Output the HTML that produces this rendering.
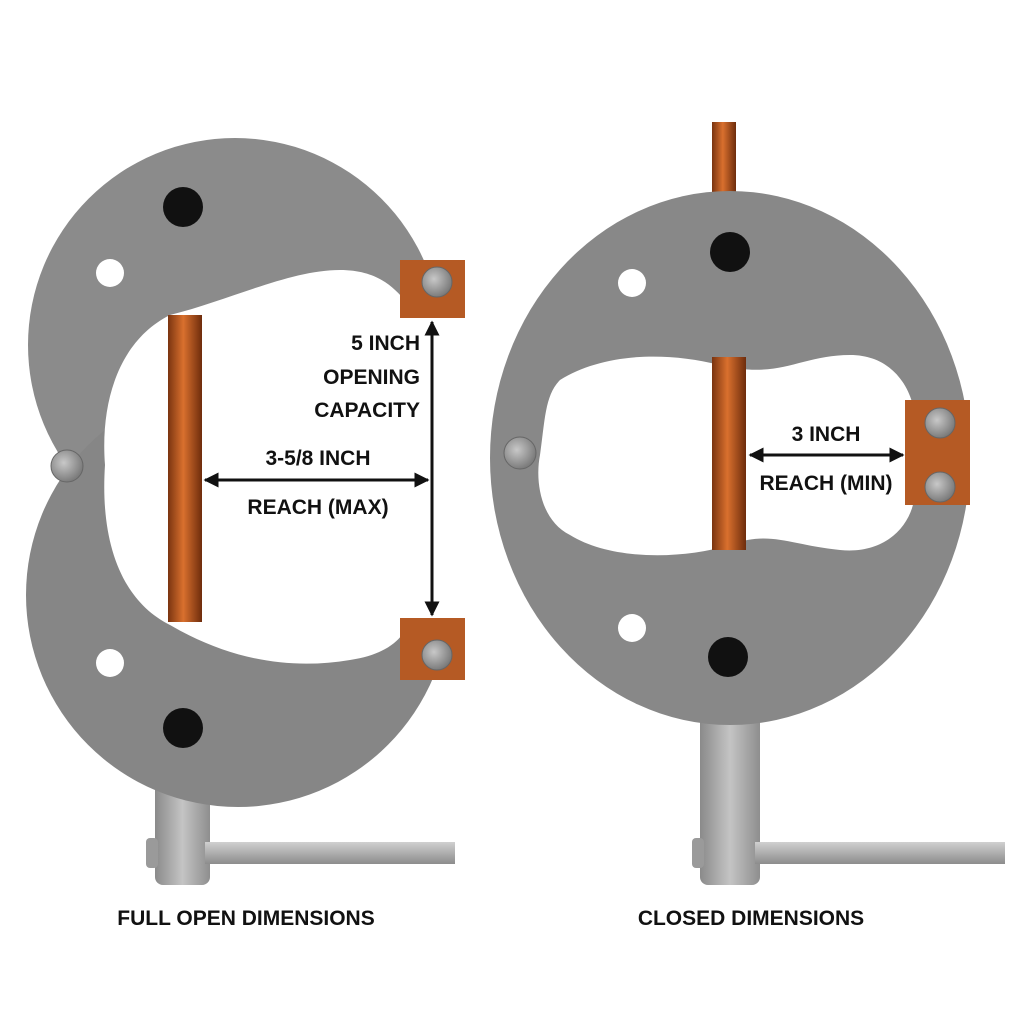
<!DOCTYPE html>
<html><head><meta charset="utf-8"><style>
html,body{margin:0;padding:0;background:#fff;}
svg{display:block}
text{font-family:"Liberation Sans",sans-serif;font-weight:bold;fill:#111;}
</style></head><body>
<svg width="1024" height="1024" viewBox="0 0 1024 1024" xmlns="http://www.w3.org/2000/svg">
<defs>
<linearGradient id="cu" x1="0" x2="1" y1="0" y2="0">
<stop offset="0" stop-color="#7a3410"/><stop offset="0.45" stop-color="#d9702e"/><stop offset="1" stop-color="#6e2c0c"/></linearGradient>
<linearGradient id="st" x1="0" x2="1" y1="0" y2="0">
<stop offset="0" stop-color="#8a8a8a"/><stop offset="0.5" stop-color="#c4c4c4"/><stop offset="1" stop-color="#8e8e8e"/></linearGradient>
<linearGradient id="bar" x1="0" x2="0" y1="0" y2="1">
<stop offset="0" stop-color="#d0d0d0"/><stop offset="1" stop-color="#8c8c8c"/></linearGradient>
<radialGradient id="pin" cx="0.4" cy="0.4" r="0.6"><stop offset="0" stop-color="#c8c8c8"/><stop offset="1" stop-color="#7c7c7c"/></radialGradient>
<marker id="ah" viewBox="0 0 10 10" refX="9" refY="5" markerWidth="5" markerHeight="5" orient="auto-start-reverse"><path d="M0,0 L10,5 L0,10 z" fill="#111"/></marker>
</defs>

<!-- LEFT clamp handle -->
<rect x="155" y="780" width="55" height="105" rx="8" fill="url(#st)"/>
<rect x="205" y="842" width="250" height="22" fill="url(#bar)"/>
<rect x="146" y="838" width="12" height="30" rx="4" fill="#9a9a9a"/>

<!-- LEFT discs -->
<circle cx="235" cy="345" r="207" fill="#8b8b8b"/>
<circle cx="238" cy="595" r="212" fill="#868686"/>
<!-- cutout -->
<path d="M170,315 C120,340 100,400 105,465 C100,540 120,600 170,625 C230,660 290,670 350,660 C385,655 400,640 405,630 L480,630 L480,300 L405,300 C395,290 380,270 340,270 C290,270 230,300 170,315 Z" fill="#fff"/>
<!-- jaw pads -->
<rect x="400" y="260" width="65" height="58" fill="#b55a24"/>
<rect x="400" y="618" width="65" height="62" fill="#b55a24"/>
<!-- spindle -->
<rect x="168" y="315" width="34" height="307" fill="url(#cu)"/>
<!-- holes -->
<circle cx="183" cy="207" r="20" fill="#111"/>
<circle cx="183" cy="728" r="20" fill="#111"/>
<circle cx="110" cy="273" r="14" fill="#fff"/>
<circle cx="110" cy="663" r="14" fill="#fff"/>
<circle cx="437" cy="282" r="15" fill="url(#pin)" stroke="#666"/>
<circle cx="437" cy="655" r="15" fill="url(#pin)" stroke="#666"/>
<circle cx="67" cy="466" r="16" fill="url(#pin)" stroke="#666"/>

<!-- RIGHT clamp handle -->
<rect x="700" y="715" width="60" height="170" rx="8" fill="url(#st)"/>
<rect x="755" y="842" width="250" height="22" fill="url(#bar)"/>
<rect x="692" y="838" width="12" height="30" rx="4" fill="#9a9a9a"/>
<!-- thread top -->
<rect x="712" y="122" width="24" height="70" fill="url(#cu)"/>
<!-- disc -->
<ellipse cx="730" cy="458" rx="240" ry="267" fill="#888"/>
<path d="M560,380 C600,355 660,350 720,365 C780,380 800,355 850,355 C900,355 915,400 915,420 L915,490 C915,520 890,555 840,550 C790,545 770,530 730,545 C680,560 610,560 570,535 C540,520 535,480 540,455 C545,420 545,395 560,380 Z" fill="#fff"/>
<rect x="905" y="400" width="65" height="105" fill="#b55a24"/>
<rect x="712" y="357" width="34" height="193" fill="url(#cu)"/>
<circle cx="730" cy="252" r="20" fill="#111"/>
<circle cx="728" cy="657" r="20" fill="#111"/>
<circle cx="632" cy="283" r="14" fill="#fff"/>
<circle cx="632" cy="628" r="14" fill="#fff"/>
<circle cx="940" cy="423" r="15" fill="url(#pin)" stroke="#666"/>
<circle cx="940" cy="487" r="15" fill="url(#pin)" stroke="#666"/>
<circle cx="520" cy="453" r="16" fill="url(#pin)" stroke="#666"/>

<!-- arrows -->
<line x1="432" y1="322" x2="432" y2="615" stroke="#111" stroke-width="3" marker-start="url(#ah)" marker-end="url(#ah)"/>
<line x1="205" y1="480" x2="428" y2="480" stroke="#111" stroke-width="3" marker-start="url(#ah)" marker-end="url(#ah)"/>
<line x1="750" y1="455" x2="903" y2="455" stroke="#111" stroke-width="3" marker-start="url(#ah)" marker-end="url(#ah)"/>

<!-- labels -->
<text x="420" y="350" font-size="21" text-anchor="end">5 INCH</text>
<text x="420" y="384" font-size="21" text-anchor="end">OPENING</text>
<text x="420" y="417" font-size="21" text-anchor="end">CAPACITY</text>
<text x="318" y="465" font-size="21" text-anchor="middle">3-5/8 INCH</text>
<text x="318" y="514" font-size="21" text-anchor="middle">REACH (MAX)</text>
<text x="826" y="441" font-size="21" text-anchor="middle">3 INCH</text>
<text x="826" y="490" font-size="21" text-anchor="middle">REACH (MIN)</text>
<text x="246" y="925" font-size="21" text-anchor="middle">FULL OPEN DIMENSIONS</text>
<text x="751" y="925" font-size="21" text-anchor="middle">CLOSED DIMENSIONS</text>
</svg>
</body></html>
